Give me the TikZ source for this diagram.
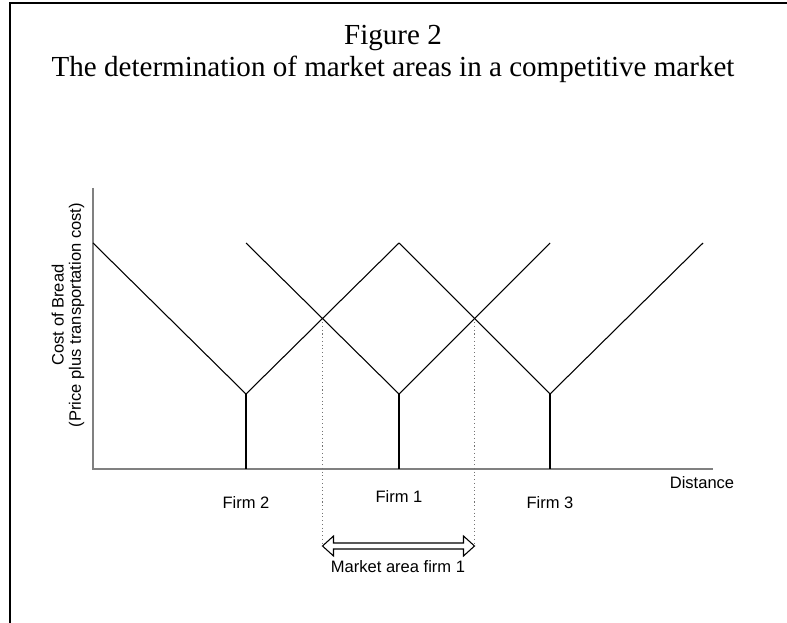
\documentclass[tikz,border=0pt]{standalone}
\usepackage{fontspec}
\setmainfont{Liberation Serif}
\setsansfont{Liberation Sans}
\usetikzlibrary{calc}
\tikzset{
  axisline/.style={draw=black!50,line width=1.4pt},
  costline/.style={draw=black,line width=0.8pt},
  baseline/.style={draw=black,line width=0.8pt},
  arealine/.style={draw=black!55,line width=0.8pt,dotted},
  lbl/.style={font=\sffamily\fontsize{12.4}{13}\selectfont,inner sep=0pt},
  ttl/.style={font=\fontsize{21.8}{24}\selectfont,inner sep=0pt,align=center},
  hollowarrow/.style={draw=black,line width=0.8pt,fill=white},
}
\begin{document}
\begin{tikzpicture}[x=0.75pt,y=-0.75pt]
  \useasboundingbox (0,0) rectangle (787,623);
  % frame
  \draw[line width=2pt] (10,623) -- (10,3) -- (787,3);

  % title
  \node[ttl] (title) at (393,54) {Figure 2\\The determination of market areas in a competitive market};

  % axes
  \coordinate (o) at (93,469);
  \coordinate (ytop) at (93,188);
  \coordinate (xend) at (713,469);
  \draw[axisline] (ytop) -- (o) -- (xend);

  % firm locations and price peaks
  \coordinate (f2) at (246,394);
  \coordinate (f1) at (399,394);
  \coordinate (f3) at (550,394);
  \coordinate (p0) at (93,243);
  \coordinate (pA) at (246,243);
  \coordinate (pB) at (399,243);
  \coordinate (pC) at (550,243);
  \coordinate (pD) at (703,243);

  \draw[costline] (p0) -- (f2) -- (pB);
  \draw[costline] (pA) -- (f1) -- (pC);
  \draw[costline] (pB) -- (f3) -- (pD);

  \draw[baseline] (f2) -- (f2 |- o);
  \draw[baseline] (f1) -- (f1 |- o);
  \draw[baseline] (f3) -- (f3 |- o);

  % market boundaries
  \coordinate (m1) at ($(f2)!0.5!(pB)$);
  \coordinate (m2) at ($(f1)!0.5!(pC)$);
  \coordinate (a1) at (m1 |- 0,546);
  \coordinate (a2) at (m2 |- 0,546);
  \draw[arealine] (m1) -- (a1);
  \draw[arealine] (m2) -- (a2);

  % double arrow
  \draw[hollowarrow] (a1) -- ++(11,-10) -- ++(0,7) -- ($(a2)+(-11,-3)$)
    -- ++(0,-7) -- (a2) -- ++(-11,10) -- ++(0,-7) -- ($(a1)+(11,3)$)
    -- ++(0,7) -- cycle;

  % labels
  \node[lbl] (firm2) at (246,503) {Firm 2};
  \node[lbl] (firm1) at (399,497) {Firm 1};
  \node[lbl] (firm3) at (550,503) {Firm 3};
  \node[lbl] (dist) at (702,483) {Distance};
  \node[lbl,rotate=90,align=center] (ylab) at (68,315) {Cost of Bread\\(Price plus transportation cost)};
  \node[lbl] (area) at (398,567) {Market area firm 1};
\end{tikzpicture}
\end{document}
